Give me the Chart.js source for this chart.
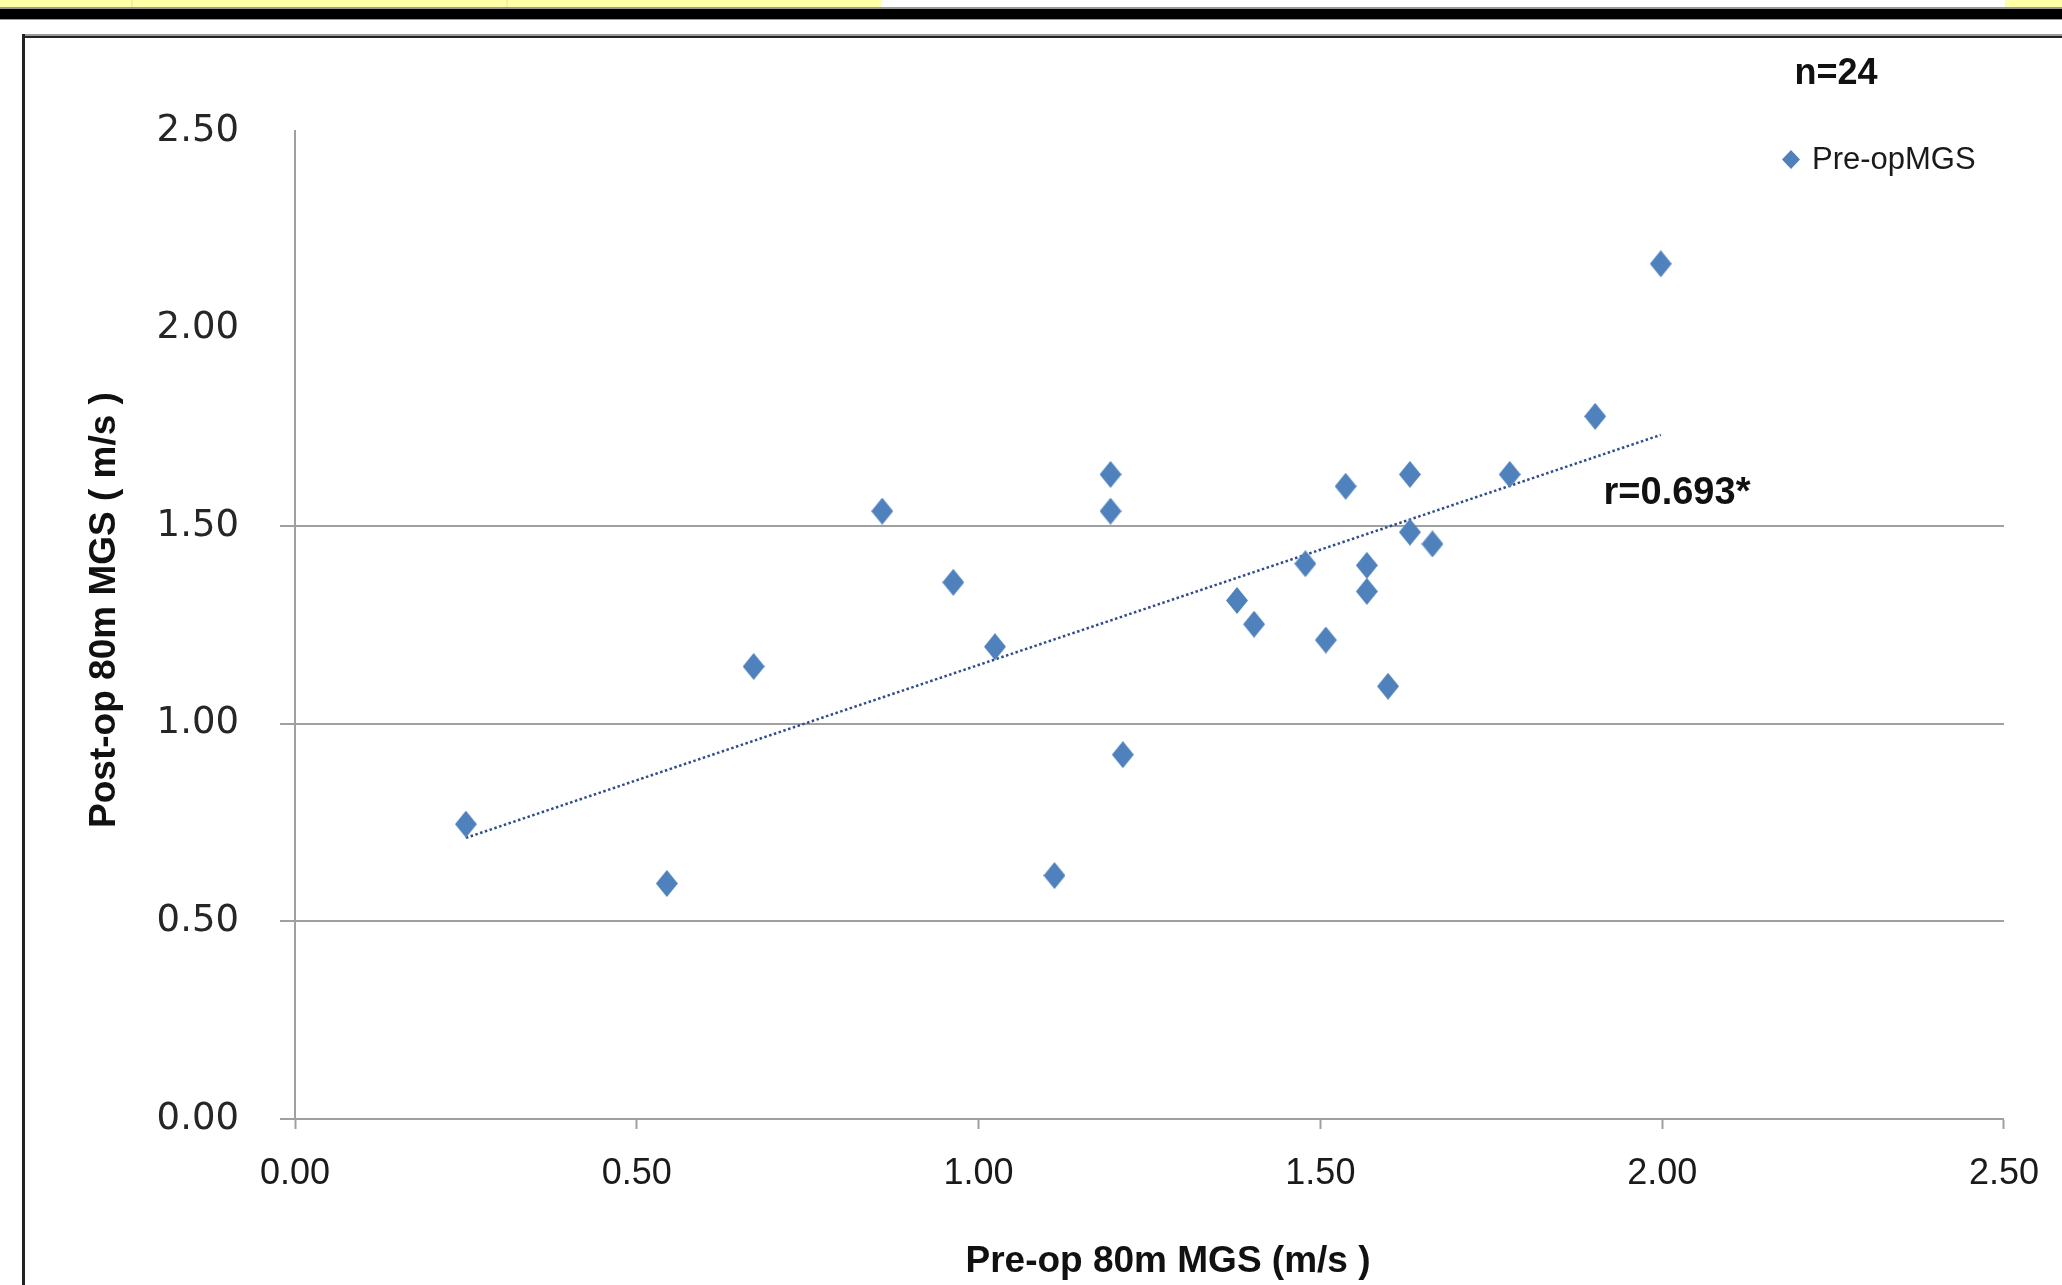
<!DOCTYPE html>
<html>
<head>
<meta charset="utf-8">
<script src="https://cdn.jsdelivr.net/npm/chart.js@4.4.7/dist/chart.umd.min.js"></script>
<style>
  html, body { margin: 0; padding: 0; background: #fff; overflow: hidden; }
  #wrap { position: relative; width: 2062px; height: 1285px; }
</style>
</head>
<body>
<div id="wrap"><canvas id="scatter" width="2062" height="1285"></canvas></div>
<script>
// Pre-op vs post-op 80m MGS (m/s)
const preOp  = [0.25, 0.544, 0.671, 0.859, 0.963, 1.024, 1.111, 1.193, 1.193, 1.211, 1.378, 1.403,
                1.478, 1.508, 1.537, 1.568, 1.568, 1.599, 1.631, 1.631, 1.664, 1.777, 1.902, 1.998];
const postOp = [0.746, 0.596, 1.145, 1.538, 1.358, 1.195, 0.616, 1.631, 1.538, 0.922, 1.312, 1.252,
                1.405, 1.212, 1.601, 1.401, 1.335, 1.095, 1.631, 1.485, 1.455, 1.631, 1.778, 2.164];
const axisTicks = [0, 0.5, 1, 1.5, 2, 2.5];
const seriesName = 'Pre-opMGS';
const xTitle = 'Pre-op 80m MGS (m/s )';
const yTitle = 'Post-op 80m MGS ( m/s )';
const countLabel = 'n=24';
const corrLabel = 'r=0.693*';

const blue = '#4f81bd';
const gridGray = '#a0a0a0';

// least squares trend line through the points
function trend(xs, ys) {
    const n = xs.length;
    const mx = xs.reduce((a, b) => a + b, 0) / n;
    const my = ys.reduce((a, b) => a + b, 0) / n;
    let sxy = 0, sxx = 0;
    for (let i = 0; i < n; i++) { sxy += (xs[i] - mx) * (ys[i] - my); sxx += (xs[i] - mx) ** 2; }
    const b = sxy / sxx, a = my - b * mx;
    const x0 = Math.min(...xs), x1 = Math.max(...xs);
    return [{ x: x0, y: a + b * x0 }, { x: x1, y: a + b * x1 }];
}

function diamond(w, h, color) {
    const c = document.createElement('canvas');
    c.width = w; c.height = h;
    const g = c.getContext('2d');
    g.fillStyle = color;
    g.beginPath();
    g.moveTo(w / 2, 0); g.lineTo(w, h / 2); g.lineTo(w / 2, h); g.lineTo(0, h / 2);
    g.closePath(); g.fill();
    return c;
}
const marker = diamond(22, 27, blue);
const legendMarker = diamond(18, 19, blue);

const pageDecor = {
    id: 'pageDecor',
    beforeDraw(chart) {
        const ctx = chart.ctx;
        ctx.save();
        ctx.fillStyle = '#fff';
        ctx.fillRect(0, 0, chart.width, chart.height);
        // yellow strip and black rule at the very top
        ctx.fillStyle = '#ffffa6';
        ctx.fillRect(0, 0, 881, 7);
        ctx.fillRect(2005, 0, 57, 7);
        ctx.fillStyle = '#f4f0a0';
        ctx.fillRect(131, 0, 2, 7);
        ctx.fillRect(506, 0, 2, 7);
        ctx.fillStyle = '#999';
        ctx.fillRect(0, 7, chart.width, 2);
        ctx.fillStyle = '#000';
        ctx.fillRect(0, 9, chart.width, 10);
        ctx.fillStyle = '#999';
        ctx.fillRect(0, 19, chart.width, 1);
        // chart frame
        ctx.fillStyle = '#9a9a9a';
        ctx.fillRect(22, 34, chart.width - 22, 2);
        ctx.fillStyle = '#222';
        ctx.fillRect(22, 36, chart.width - 22, 2);
        ctx.fillRect(22, 34, 3, chart.height - 34);
        ctx.restore();
    },
    afterDraw(chart) {
        const ctx = chart.ctx;
        ctx.save();
        ctx.fillStyle = '#111';
        ctx.textBaseline = 'middle';
        ctx.textAlign = 'center';
        ctx.font = "bold 36px 'Liberation Sans', Arial, sans-serif";
        ctx.fillText(countLabel, 1836, 74);
        ctx.font = "bold 38px 'Liberation Sans', Arial, sans-serif";
        ctx.fillText(corrLabel, 1677, 494);
        // axis titles
        ctx.font = "bold 37px 'Liberation Sans', Arial, sans-serif";
        ctx.fillText(xTitle, 1168, 1262);
        ctx.save();
        ctx.translate(105, 610);
        ctx.rotate(-Math.PI / 2);
        ctx.fillText(yTitle, 0, 0);
        ctx.restore();
        // legend
        ctx.drawImage(legendMarker, 1791 - 9, 159 - 9);
        ctx.textAlign = 'left';
        ctx.fillStyle = '#1a1a1a';
        ctx.font = "31px 'Liberation Sans', Arial, sans-serif";
        ctx.fillText(seriesName, 1812, 160);
        ctx.restore();
    }
};

const gridColor = (ctx) => (ctx.tick && ctx.tick.value > 1.5 ? 'rgba(0,0,0,0)' : gridGray);

new Chart(document.getElementById('scatter'), {
    type: 'scatter',
    data: {
        datasets: [{
            label: seriesName,
            data: preOp.map((x, i) => ({ x: x, y: postOp[i] })),
            pointStyle: marker,
            pointRadius: 13,
            backgroundColor: blue,
            borderColor: blue,
            order: 1
        }, {
            label: 'trend',
            type: 'line',
            data: trend(preOp, postOp),
            borderColor: '#2f4d8c',
            borderWidth: 2.5,
            borderDash: [2.5, 2.5],
            pointRadius: 0,
            fill: false,
            order: 2
        }]
    },
    options: {
        responsive: false,
        animation: false,
        events: [],
        layout: { padding: { left: 0, top: 131, right: 54, bottom: 0 } },
        plugins: {
            legend: { display: false },
            tooltip: { enabled: false }
        },
        scales: {
            x: {
                type: 'linear',
                min: 0, max: 2.5,
                afterBuildTicks: s => { s.ticks = axisTicks.map(v => ({ value: v })); },
                afterFit: s => { s.height = 166; },
                border: { display: true, color: gridGray, width: 2 },
                grid: { drawOnChartArea: false, drawTicks: true, tickLength: 10, tickColor: gridGray, tickWidth: 2 },
                ticks: {
                    padding: 23,
                    color: '#1a1a1a',
                    font: { family: "'Liberation Sans', Arial, sans-serif", size: 36 },
                    maxRotation: 0,
                    callback: v => Number(v).toFixed(2)
                },
                title: { display: false }
            },
            y: {
                type: 'linear',
                min: 0, max: 2.5,
                afterBuildTicks: s => { s.ticks = axisTicks.map(v => ({ value: v })); },
                afterFit: s => { s.width = 295; },
                border: { display: true, color: gridGray, width: 2 },
                grid: { color: gridColor, tickColor: gridColor, lineWidth: 2, tickWidth: 2, tickLength: 15 },
                ticks: {
                    padding: 41,
                    color: '#262626',
                    font: { family: "'DejaVu Sans', Verdana, sans-serif", size: 37 },
                    callback: v => Number(v).toFixed(2)
                },
                title: { display: false }
            }
        }
    },
    plugins: [pageDecor]
});
</script>
</body>
</html>
